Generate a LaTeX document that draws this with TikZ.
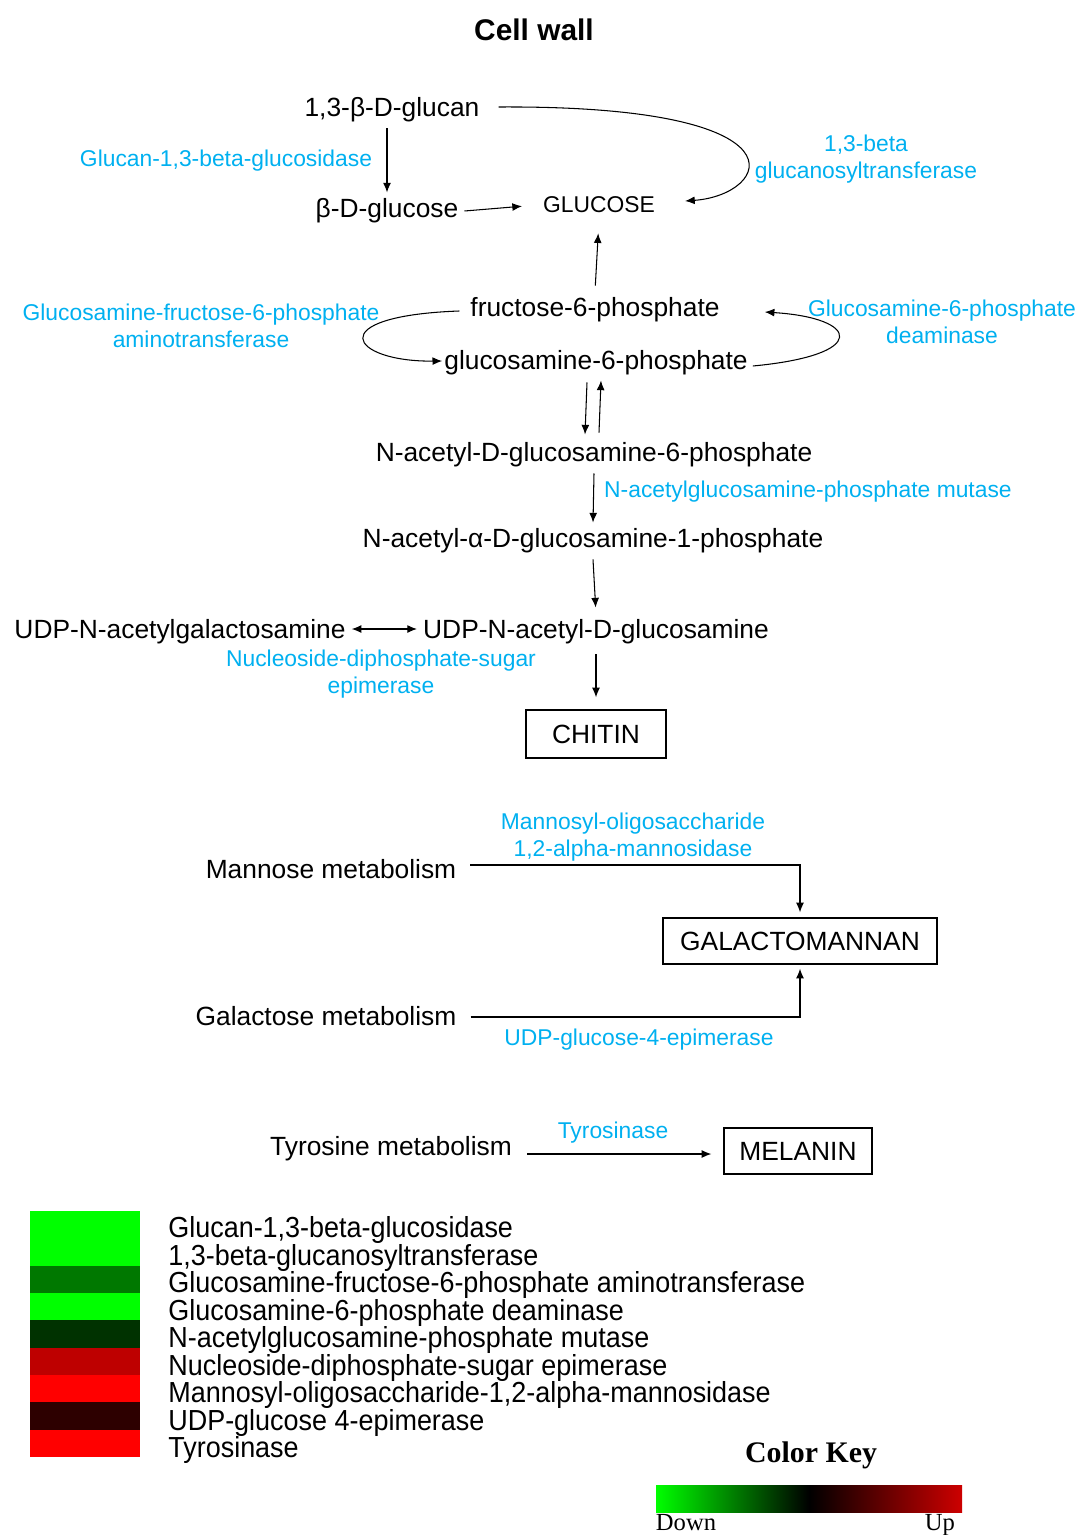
\documentclass[tikz,border=0pt]{standalone}
\usepackage{fontspec}
\setmainfont{Liberation Sans}
\newfontfamily\legendfont[FakeStretch=0.93]{Liberation Sans}
\newfontfamily\keyfont{Liberation Serif}
\usetikzlibrary{arrows.meta,calc}

\definecolor{enzblue}{RGB}{0,176,240}
\definecolor{legbright}{RGB}{0,255,0}
\definecolor{legmid}{RGB}{0,120,0}
\definecolor{legdark}{RGB}{0,50,0}
\definecolor{legredb}{RGB}{190,0,0}
\definecolor{legred}{RGB}{255,0,0}
\definecolor{legdarkred}{RGB}{45,0,0}
\definecolor{keyred}{RGB}{205,0,0}

\tikzset{
  metab/.style={font=\fontsize{15}{18}\selectfont},
  enz/.style={text=enzblue,font=\fontsize{13}{15.6}\selectfont,align=center},
  endbox/.style={draw,line width=0.8pt,font=\fontsize{15}{18}\selectfont},
  arr/.style={-{Latex[length=5.5pt,width=4.5pt]},line width=0.6pt},
  legtext/.style={anchor=west,inner sep=0pt,font=\legendfont\fontsize{16.5}{18}\selectfont}
}

\begin{document}
\begin{tikzpicture}[x=0.02cm,y=-0.02cm]
\useasboundingbox (0,0) rectangle (1080,1535);

\node[font=\bfseries\fontsize{17}{20}\selectfont] (title) at (534,30) {Cell wall};

\node[metab] (glucan) at (392,110) {1,3-β-D-glucan};
\node[metab] (bglucose) at (387,211) {β-D-glucose};
\node[metab,font=\fontsize{13}{15.6}\selectfont] (glucose) at (599,205) {GLUCOSE};
\node[metab] (fru6p) at (595,310) {fructose-6-phosphate};
\node[metab] (gln6p) at (596,363) {glucosamine-6-phosphate};
\node[metab] (nag6p) at (594,455) {N-acetyl-D-glucosamine-6-phosphate};
\node[metab] (naga1p) at (593,541) {N-acetyl-α-D-glucosamine-1-phosphate};
\node[metab] (udpglc) at (596,632) {UDP-N-acetyl-D-glucosamine};
\node[metab] (udpgal) at (180,632) {UDP-N-acetylgalactosamine};
\node[endbox,minimum width=2.8cm,minimum height=0.96cm] (chitin) at (596,734) {CHITIN};

\node[enz] (glcase) at (226,161) {Glucan-1,3-beta-glucosidase};
\node[enz] (gtrans) at (866,159) {1,3-beta\\glucanosyltransferase};
\node[enz] (gfat) at (201,326) {Glucosamine-fructose-6-phosphate\\aminotransferase};
\node[enz] (gdeam) at (942,322) {Glucosamine-6-phosphate\\deaminase};
\node[enz,anchor=west] (mutase) at (598,492) {N-acetylglucosamine-phosphate mutase};
\node[enz] (epim) at (381,674) {Nucleoside-diphosphate-sugar\\epimerase};

\draw[arr] (glucan.south -| bglucose.north) -- (bglucose.north);
\draw[arr,shorten >=0.3cm] (bglucose.east) -- (glucose.west);
\draw[arr] ($(glucan.east)+(13,-3)$) .. controls (815,105) and (770,195) .. ($(glucose.east)+(24,-4)$);
\draw[arr,shorten <=0.12cm,shorten >=0.28cm] (fru6p.north) -- (glucose.south);
\draw[arr] ($(fru6p.west)+(-5,1)$) .. controls (320,316) and (350,362) .. ($(gln6p.west)+(4,-2)$);
\draw[arr] ($(gln6p.east)+(-1,3)$) .. controls (870,355) and (860,318) .. ($(fru6p.east)+(39,2)$);
\draw[arr] ($(gln6p.south)+(-9,1)$) -- ($(nag6p.north)+(-9,-2)$);
\draw[arr] ($(nag6p.north)+(5,-4)$) -- ($(gln6p.south)+(5,-1)$);
\draw[arr] (nag6p.south) -- (naga1p.north);
\draw[arr,shorten >=0.12cm] (naga1p.south) -- (udpglc.north);
\draw[arr,shorten <=0.08cm,shorten >=0.24cm] (udpglc.south) -- (chitin.north);
\draw[{Latex[length=5.5pt,width=4.5pt]}-{Latex[length=5.5pt,width=4.5pt]},line width=0.6pt] ($(udpgal.east)+(0,-3)$) -- ($(udpglc.west)+(0,-3)$);

\node[metab] (mannose) at (331,869) {Mannose metabolism};
\node[metab] (galactose) at (326,1016) {Galactose metabolism};
\node[endbox,minimum width=5.48cm,minimum height=0.92cm] (galacto) at (800,941) {GALACTOMANNAN};
\node[enz] (mannosid) at (633,837) {Mannosyl-oligosaccharide\\1,2-alpha-mannosidase};
\node[enz] (udpepim) at (639,1040) {UDP-glucose-4-epimerase};

\draw[arr,shorten <=0.16cm,shorten >=0.1cm] ($(mannose.east)+(0,-4)$) -| (galacto.north);
\draw[arr,shorten >=0.08cm] ($(galactose.east)+(8,1)$) -| (galacto.south);

\node[metab] (tyrosine) at (391,1149) {Tyrosine metabolism};
\node[endbox,minimum width=2.96cm,minimum height=0.92cm] (melanin) at (798,1151) {MELANIN};
\node[enz] (tyrase) at (613,1133) {Tyrosinase};
\coordinate (tyrout) at ($(tyrosine.east)+(9,5)$);
\draw[arr,shorten >=0.24cm] (tyrout) -- (tyrout -| melanin.west);

\foreach \c [count=\i] in {legbright,legbright,legmid,legbright,legdark,legredb,legred,legdarkred,legred}
  \fill[\c] (30,{1211+(\i-1)*27.33}) rectangle (140,{1211+\i*27.33});

\foreach \t [count=\i] in {{Glucan-1,3-beta-glucosidase},{1,3-beta-glucanosyltransferase},
  {Glucosamine-fructose-6-phosphate aminotransferase},{Glucosamine-6-phosphate deaminase},
  {N-acetylglucosamine-phosphate mutase},{Nucleoside-diphosphate-sugar epimerase},
  {Mannosyl-oligosaccharide-1,2-alpha-mannosidase},{UDP-glucose 4-epimerase},{Tyrosinase}}
  \node[legtext] (leg\i) at (168,{1230+(\i-1)*27.5}) {\t};

\node[font=\keyfont\bfseries\fontsize{17}{20}\selectfont] (colorkey) at (811,1455) {Color Key};
\shade[left color=legbright,right color=keyred,middle color=black] (656,1485) rectangle (962,1512);
\node[anchor=base,inner sep=0pt,font=\keyfont\fontsize{14}{16}\selectfont] (down) at (686,1530) {Down};
\node[anchor=base,inner sep=0pt,font=\keyfont\fontsize{14}{16}\selectfont] (up) at (940,1530) {Up};

\end{tikzpicture}
\end{document}
